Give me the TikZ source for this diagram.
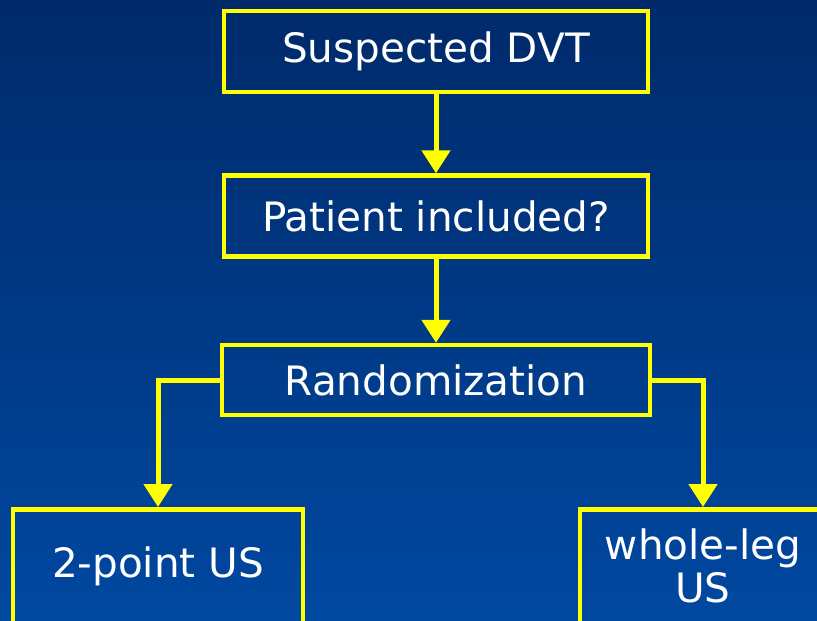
\documentclass[tikz,border=0pt]{standalone}
\usepackage{fontspec}
\setmainfont{DejaVu Sans}
\usepackage{tikz}
\usetikzlibrary{arrows.meta,positioning}

\definecolor{bgtop}{RGB}{0,42,106}
\definecolor{bgbot}{RGB}{0,72,160}
\definecolor{flowyellow}{RGB}{255,255,0}

\begin{document}
\begin{tikzpicture}[
    x=1pt, y=-1pt,
    font=\fontsize{40.5}{43}\selectfont,
    box/.style={draw=flowyellow, line width=4.5pt, text=white, align=center,
      inner sep=0pt, minimum width=424pt, minimum height=81pt},
    arrow/.style={flowyellow, line width=5pt,
      -{Triangle[length=23pt,width=28pt]}}
  ]
    \shade[top color=bgtop, bottom color=bgbot] (0,0) rectangle (817,621);
    \useasboundingbox (0,0) rectangle (817,621);
    \clip (0,0) rectangle (817,621);

    \node[box] (dvt) at (436,51.5) {Suspected DVT};
    \node[box, below=79pt of dvt] (incl) {Patient included?};
    \node[box, below=84pt of incl, minimum width=428pt, minimum height=70pt]
      (rand) {Randomization};

    \node[box, anchor=north, minimum width=290pt, minimum height=114pt]
      (twopt) at (158,507) {2-point US};
    \node[box, anchor=north, minimum width=246pt, minimum height=114pt]
      (whole) at (703,507) {whole-leg\\US};

    \draw[arrow] (dvt) -- (incl);
    \draw[arrow] (incl) -- (rand);
    \draw[arrow] (rand.west) -| (twopt.north);
    \draw[arrow] (rand.east) -| (whole.north);
  \end{tikzpicture}
\end{document}
